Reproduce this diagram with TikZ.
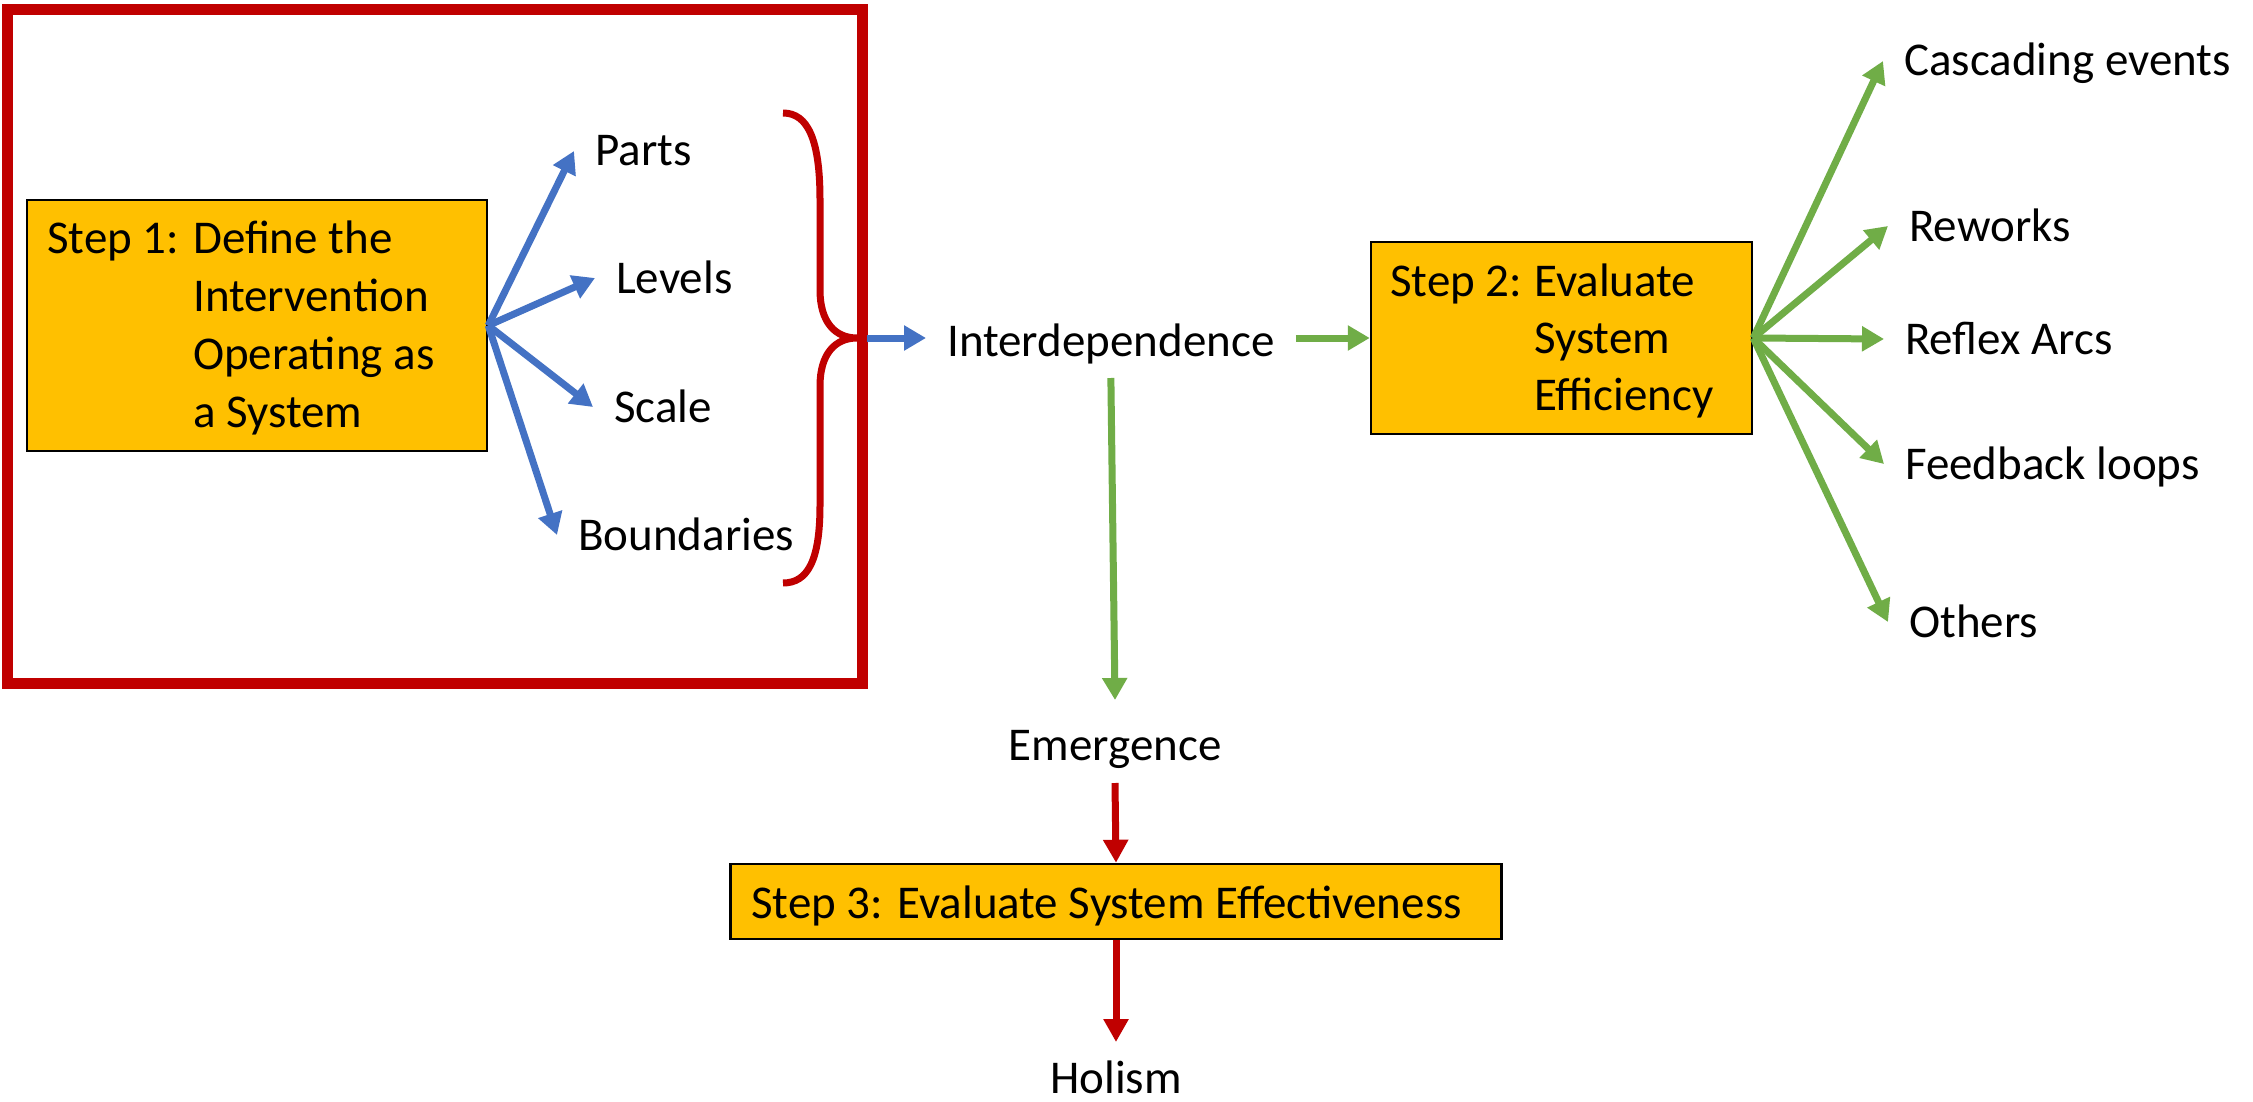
\documentclass[tikz,border=0pt]{standalone}
\usepackage{fontspec}
\setmainfont{Carlito}
\usetikzlibrary{arrows.meta}
\definecolor{pblue}{HTML}{4472C4}
\definecolor{pgreen}{HTML}{70AD47}
\definecolor{pred}{HTML}{C00000}
\definecolor{pgold}{HTML}{FFC000}
\begin{document}
\begin{tikzpicture}[x=1pt,y=-1pt,
  stepbox/.style={draw=black, line width=2.5pt, fill=pgold, inner sep=0pt},
  lbl/.style={font=\fontsize{47}{58}\selectfont, inner xsep=21pt, inner ysep=0pt,
              text height=30pt, text depth=0pt, anchor=base west},
  ctr/.style={font=\fontsize{47}{58}\selectfont, inner sep=0pt, anchor=base},
  boxtext/.style={inner sep=0pt, anchor=base west},
  barrow/.style={draw=pblue, line width=7pt, -{Triangle[length=22pt,width=24pt]}},
  garrow/.style={draw=pgreen, line width=7pt, -{Triangle[length=22pt,width=24pt]}},
  rarrow/.style={draw=pred, line width=7pt, -{Triangle[length=23pt,width=24pt]}},
  frame/.style={draw=pred, line width=11pt},
  brace/.style={draw=pred, line width=7pt}
]
\useasboundingbox[fill=white] (0,0) rectangle (2253,1102);

% red frame
\draw[frame] (7.5,9.5) rectangle (862,683.5);

% Step boxes
\node[stepbox, minimum width=460pt, minimum height=251pt] (s1) at (257,325.5) {};
\node[boxtext, font=\fontsize{47}{58}\selectfont] (s1t) at (47,253)
  {\begin{tabular}[t]{@{}l@{}}\makebox[146pt][l]{Step 1:}Define the\\
   \hspace*{146pt}Intervention\\ \hspace*{146pt}Operating as\\ \hspace*{146pt}a System\end{tabular}};

\node[stepbox, minimum width=381pt, minimum height=192pt] (s2) at (1561.5,338) {};
\node[boxtext, font=\fontsize{47}{57}\selectfont] (s2t) at (1390,296)
  {\begin{tabular}[t]{@{}l@{}}\makebox[144pt][l]{Step 2:}Evaluate\\
   \hspace*{144pt}System\\ \hspace*{144pt}Efficiency\end{tabular}};

\node[stepbox, minimum width=771pt, minimum height=75pt] (s3) at (1116,901.5) {};
\node[boxtext, font=\fontsize{47}{58}\selectfont] (s3t) at (751,918)
  {Step 3: Evaluate System Effectiveness};

% left labels
\node[lbl] (parts) at (574,166) {Parts};
\node[lbl] (levels) at (595,293) {Levels};
\node[lbl] (scale) at (593,422) {Scale};
\node[lbl] (bound) at (557,550) {Boundaries};

% middle labels
\node[lbl] (inter) at (926,356) {Interdependence};
\node[ctr] (emerg) at (1115,760) {Emergence};
\node[ctr] (holism) at (1116,1093) {Holism};

% right labels
\node[lbl] (casc) at (1883,76) {Cascading events};
\node[lbl] (rework) at (1888,241) {Reworks};
\node[lbl] (reflex) at (1884,354) {Reflex Arcs};
\node[lbl] (feed) at (1884,479) {Feedback loops};
\node[lbl] (others) at (1888,637) {Others};

% brace
\draw[brace] (783,113) .. controls (808,113) and (820,140) .. (820,200)
  -- (820,290) .. controls (820,322) and (835,338) .. (857,338)
  .. controls (835,338) and (820,354) .. (820,386)
  -- (820,505) .. controls (820,560) and (808,583) .. (783,583);
\coordinate (bt) at (867,338);

% blue arrows
\draw[barrow] (s1.east) -- (parts.west);
\draw[barrow] (s1.east) -- (levels.west);
\draw[barrow] (s1.east) -- (scale.west);
\draw[barrow] (s1.east) -- (bound.west);
\draw[barrow] (bt) -- (bt -| inter.west);

% green arrows
\draw[garrow] (inter.east |- s2.west) -- (s2.west);
\draw[garrow] ([yshift=-22pt]inter.base) -- ([yshift=60pt]emerg.base);
\draw[garrow] (s2.east) -- (casc.west);
\draw[garrow] (s2.east) -- (rework.west);
\draw[garrow] (s2.east) -- (reflex.west);
\draw[garrow] (s2.east) -- (feed.west);
\draw[garrow] (s2.east) -- (others.west);

% red arrows
\draw[rarrow] ([yshift=-23pt]emerg.base) -- (s3.north);
\draw[rarrow] (s3.south) -- ([yshift=51pt]holism.base);
\end{tikzpicture}
\end{document}
